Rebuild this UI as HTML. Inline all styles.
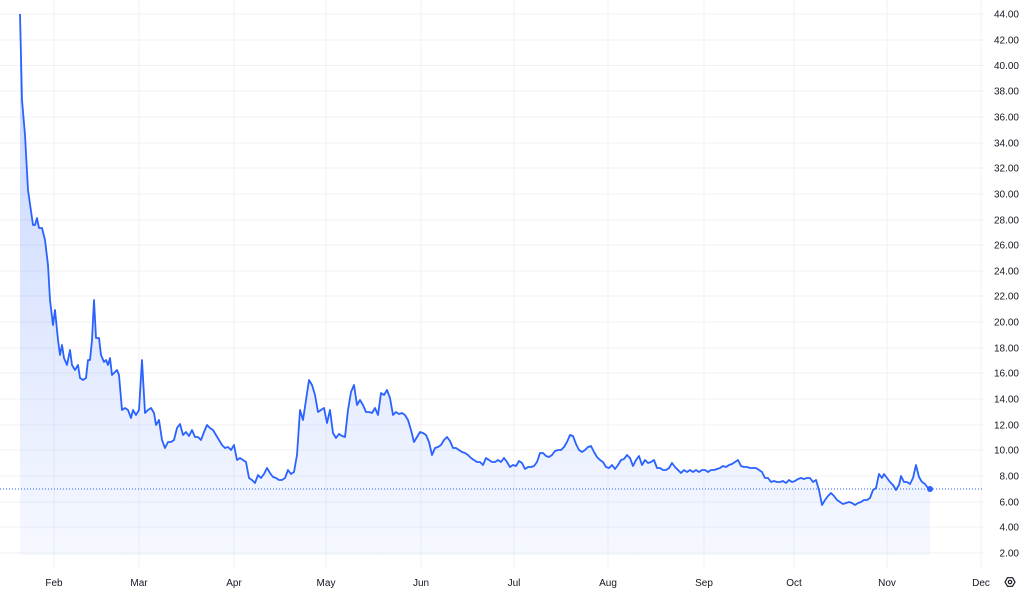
<!DOCTYPE html>
<html><head><meta charset="utf-8"><style>
body{margin:0;background:#fff;}
svg{display:block;font-family:"Liberation Sans",sans-serif;}
</style></head><body>
<svg width="1024" height="591" viewBox="0 0 1024 591">
<defs><linearGradient id="g" x1="0" y1="0" x2="0" y2="1">
<stop offset="0" stop-color="#2962ff" stop-opacity="0.28"/>
<stop offset="1" stop-color="#2962ff" stop-opacity="0.04"/></linearGradient></defs>
<g stroke="#f0f1f3" stroke-width="1">
<line x1="0" x2="984" y1="14" y2="14"/><line x1="0" x2="984" y1="40" y2="40"/><line x1="0" x2="984" y1="65.5" y2="65.5"/><line x1="0" x2="984" y1="91" y2="91"/><line x1="0" x2="984" y1="117" y2="117"/><line x1="0" x2="984" y1="143" y2="143"/><line x1="0" x2="984" y1="168" y2="168"/><line x1="0" x2="984" y1="194" y2="194"/><line x1="0" x2="984" y1="220" y2="220"/><line x1="0" x2="984" y1="245" y2="245"/><line x1="0" x2="984" y1="271" y2="271"/><line x1="0" x2="984" y1="296" y2="296"/><line x1="0" x2="984" y1="322" y2="322"/><line x1="0" x2="984" y1="348" y2="348"/><line x1="0" x2="984" y1="373" y2="373"/><line x1="0" x2="984" y1="399" y2="399"/><line x1="0" x2="984" y1="425" y2="425"/><line x1="0" x2="984" y1="450" y2="450"/><line x1="0" x2="984" y1="476" y2="476"/><line x1="0" x2="984" y1="502" y2="502"/><line x1="0" x2="984" y1="527" y2="527"/><line x1="0" x2="984" y1="553" y2="553"/>
<line x1="54" x2="54" y1="0" y2="568"/><line x1="139" x2="139" y1="0" y2="568"/><line x1="234" x2="234" y1="0" y2="568"/><line x1="326" x2="326" y1="0" y2="568"/><line x1="421" x2="421" y1="0" y2="568"/><line x1="514" x2="514" y1="0" y2="568"/><line x1="608" x2="608" y1="0" y2="568"/><line x1="704" x2="704" y1="0" y2="568"/><line x1="794" x2="794" y1="0" y2="568"/><line x1="887" x2="887" y1="0" y2="568"/><line x1="981" x2="981" y1="0" y2="568"/>
</g>
<polygon id="fill" fill="url(#g)" points=""/>
<polyline id="ln" fill="none" stroke="#2962ff" stroke-width="1.8" stroke-linejoin="round" points=""/>
<line x1="0" x2="984" y1="489" y2="489" stroke="#2962ff" stroke-width="1" stroke-dasharray="1,2"/>
<circle cx="930" cy="489" r="3" fill="#2962ff"/>
<g font-size="10" fill="#131722" text-anchor="end">
<text x="1019" y="17.5">44.00</text><text x="1019" y="43.5">42.00</text><text x="1019" y="69">40.00</text><text x="1019" y="94.5">38.00</text><text x="1019" y="120.5">36.00</text><text x="1019" y="146.5">34.00</text><text x="1019" y="171.5">32.00</text><text x="1019" y="197.5">30.00</text><text x="1019" y="223.5">28.00</text><text x="1019" y="248.5">26.00</text><text x="1019" y="274.5">24.00</text><text x="1019" y="299.5">22.00</text><text x="1019" y="325.5">20.00</text><text x="1019" y="351.5">18.00</text><text x="1019" y="376.5">16.00</text><text x="1019" y="402.5">14.00</text><text x="1019" y="428.5">12.00</text><text x="1019" y="453.5">10.00</text><text x="1019" y="479.5">8.00</text><text x="1019" y="505.5">6.00</text><text x="1019" y="530.5">4.00</text><text x="1019" y="556.5">2.00</text>
</g>
<g font-size="10" fill="#131722" text-anchor="middle">
<text x="54" y="586">Feb</text><text x="139" y="586">Mar</text><text x="234" y="586">Apr</text><text x="326" y="586">May</text><text x="421" y="586">Jun</text><text x="514" y="586">Jul</text><text x="608" y="586">Aug</text><text x="704" y="586">Sep</text><text x="794" y="586">Oct</text><text x="887" y="586">Nov</text><text x="981" y="586">Dec</text>
</g>
<g transform="translate(1010,582)" fill="none" stroke="#131722" stroke-width="1.2"><polygon points="-5,0 -2.5,-4.3 2.5,-4.3 5,0 2.5,4.3 -2.5,4.3"/><circle r="1.7"/></g>
</svg>
<script>
var p="20,14 22,100 25,135 28,190 33,225 35,225 37,218 39,228 42,228 45,240 48,265 50,300 53,325 55,310 58,340 60,355 62,345 64,358 67,365 70,350 72,365 75,370 78,365 80,378 83,380 86,378 88,360 90,360 92,340 94,300 96,338 99,338 101,355 104,362 106,360 108,365 110,358 112,375 115,372 117,370 119,375 122,410 125,408 128,410 131,418 133,410 136,415 139,410 142,360 145,413 148,410 151,408 154,413 156,425 159,420 162,440 165,448 168,442 171,442 174,440 177,428 180,424 183,435 186,432 189,436 192,430 195,437 198,437 201,440 204,432 207,425 210,428 213,430 216,435 219,440 222,445 225,448 228,447 231,450 234,445 237,460 240,458 243,460 246,462 249,478 252,480 255,483 258,475 261,478 264,474 267,468 270,473 273,477 276,478 279,480 282,480 285,478 288,470 291,474 294,472 297,455 300,410 303,420 306,400 309,380 312,385 315,395 318,412 321,410 324,408 327,423 330,410 333,433 336,438 339,434 342,436 345,437 348,410 351,392 354,385 357,405 360,400 363,405 366,412 369,412 372,413 375,408 378,415 381,393 384,395 387,390 390,398 393,415 396,412 399,414 402,413 405,415 408,420 411,430 414,442 417,437 420,432 423,433 426,435 429,442 432,455 435,448 438,447 441,445 444,440 447,437 450,441 453,448 456,448 459,450 462,452 465,453 468,455 471,458 474,460 477,462 480,462 483,465 486,458 489,460 492,462 495,462 498,460 501,462 504,458 507,462 510,467 513,465 516,466 519,461 522,463 525,469 528,467 531,467 534,466 537,462 540,453 543,453 546,456 549,457 552,455 555,451 558,450 561,450 564,447 567,442 570,435 573,436 576,444 579,450 582,452 585,450 588,447 591,446 594,452 597,457 600,460 603,462 606,467 609,468 612,465 615,469 618,465 621,460 624,459 627,455 630,458 633,466 636,460 639,456 642,465 645,460 648,463 651,462 654,460 657,468 660,468 663,470 666,470 669,468 672,463 675,467 678,470 681,473 684,470 687,472 690,470 693,472 696,470 699,472 702,470 705,470 708,472 711,470 714,470 717,469 720,468 723,466 726,467 729,465 732,464 735,462 738,460 741,466 744,467 747,467 750,468 753,468 756,468 759,470 762,472 765,478 768,478 771,482 774,481 777,482 780,482 783,481 786,483 789,480 792,482 795,481 798,479 801,478 804,479 807,478 810,478 813,482 816,480 819,490 822,505 825,500 828,496 831,493 834,496 837,500 840,502 843,504 846,503 849,502 852,503 855,505 858,503 861,502 864,500 867,500 870,498 873,490 876,488 879,474 882,478 884,474 887,478 890,482 893,485 896,490 899,485 901,476 904,482 907,482 910,484 913,478 916,465 919,477 922,482 925,484 928,488 930,489";
document.getElementById('ln').setAttribute('points',p);
document.getElementById('fill').setAttribute('points',"20,555 "+p+" 930,555");
</script>
</body></html>
